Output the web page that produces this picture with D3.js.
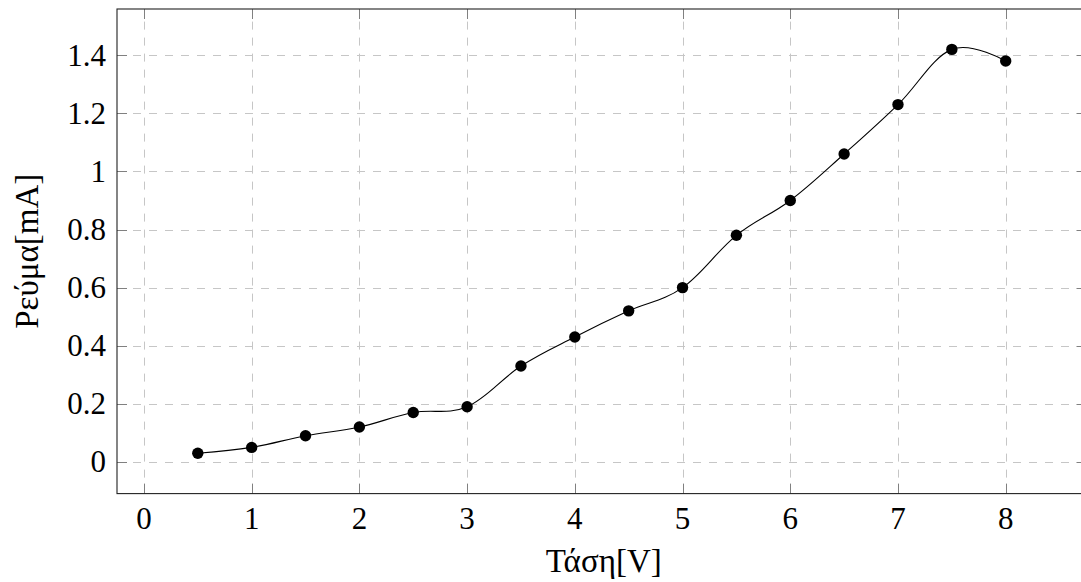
<!DOCTYPE html>
<html>
<head>
<meta charset="utf-8">
<script src="https://cdn.jsdelivr.net/npm/d3@7"></script>
<style>
  html, body { margin: 0; padding: 0; background: #fff; }
  svg { display: block; }
  text { font-family: "Liberation Serif", "DejaVu Serif", serif; fill: #000; }
</style>
</head>
<body>
<svg id="chart" width="1081" height="582"></svg>
<script>
// Measured voltage (V) and current (mA)
const voltage = [0.5, 1, 1.5, 2, 2.5, 3, 3.5, 4, 4.5, 5, 5.5, 6, 6.5, 7, 7.5, 8];
const current = [0.03, 0.05, 0.09, 0.12, 0.17, 0.19, 0.33, 0.43, 0.52, 0.60, 0.78, 0.90, 1.06, 1.23, 1.42, 1.38];

const xTicks = [0, 1, 2, 3, 4, 5, 6, 7, 8];
const yTicks = [0, 0.2, 0.4, 0.6, 0.8, 1, 1.2, 1.4];
const xTitle = "Τάση[V]";
const yTitle = "Ρεύμα[mA]";

const svg = d3.select("#chart");

// Axis limits: data extent widened by 10% of its span on each side
function enlarged(values) {
  const [lo, hi] = d3.extent(values);
  const pad = (hi - lo) * 0.1;
  return [lo - pad, hi + pad];
}
const xd = enlarged(voltage);
const yd = enlarged(current);

const plot = { left: 117, right: 1086.5, top: 9, bottom: 493.6 };

const x = d3.scaleLinear().domain(xd).range([plot.left, plot.right]);
const y = d3.scaleLinear().domain(yd).range([plot.bottom, plot.top]);

const TICK = 10;
const TICK_FONT = 31;
const TITLE_FONT = 33;

// Grid
const grid = svg.append("g")
  .attr("stroke", "#c6c6c6").attr("stroke-width", 1)
  .attr("stroke-dasharray", "8,8").attr("fill", "none");
grid.selectAll("line.v").data(xTicks).join("line").attr("class", "v")
  .attr("x1", d => Math.round(x(d)) + 0.5).attr("x2", d => Math.round(x(d)) + 0.5)
  .attr("y1", plot.bottom).attr("y2", plot.top);
grid.selectAll("line.h").data(yTicks).join("line").attr("class", "h")
  .attr("y1", d => Math.round(y(d)) + 0.5).attr("y2", d => Math.round(y(d)) + 0.5)
  .attr("x1", plot.left).attr("x2", plot.right);

// Tick marks on all four sides, pointing inward
const ticks = svg.append("g").attr("stroke", "#808080").attr("stroke-width", 1);
xTicks.forEach(t => {
  const px = Math.round(x(t)) + 0.5;
  ticks.append("line").attr("x1", px).attr("x2", px).attr("y1", plot.bottom).attr("y2", plot.bottom - TICK);
  ticks.append("line").attr("x1", px).attr("x2", px).attr("y1", plot.top).attr("y2", plot.top + TICK);
});
yTicks.forEach(t => {
  const py = Math.round(y(t)) + 0.5;
  ticks.append("line").attr("y1", py).attr("y2", py).attr("x1", plot.left).attr("x2", plot.left + TICK);
  ticks.append("line").attr("y1", py).attr("y2", py).attr("x1", plot.right).attr("x2", plot.right - TICK);
});

// Frame
svg.append("rect")
  .attr("x", plot.left).attr("y", plot.top)
  .attr("width", plot.right - plot.left).attr("height", plot.bottom - plot.top)
  .attr("fill", "none").attr("stroke", "#222").attr("stroke-width", 1.1);

// Tick labels
const fmt = d => String(+d.toFixed(2));
svg.append("g").selectAll("text").data(xTicks).join("text")
  .attr("x", d => x(d)).attr("y", 529)
  .attr("text-anchor", "middle").attr("font-size", TICK_FONT)
  .text(fmt);
svg.append("g").selectAll("text").data(yTicks).join("text")
  .attr("x", 106).attr("y", d => y(d)).attr("dy", "0.34em")
  .attr("text-anchor", "end").attr("font-size", TICK_FONT)
  .text(fmt);

// Axis titles
svg.append("text")
  .attr("x", (plot.left + plot.right) / 2 + 2).attr("y", 572)
  .attr("text-anchor", "middle").attr("font-size", TITLE_FONT)
  .text(xTitle);
svg.append("text")
  .attr("transform", `translate(38, ${(plot.top + plot.bottom) / 2}) rotate(-90)`)
  .attr("text-anchor", "middle").attr("font-size", TITLE_FONT)
  .text(yTitle);

// Smooth measurement curve and markers
const pts = voltage.map((v, i) => [v, current[i]]);
const line = d3.line().x(d => x(d[0])).y(d => y(d[1])).curve(d3.curveCardinal.tension(-0.1));
svg.append("path").datum(pts)
  .attr("d", line).attr("fill", "none").attr("stroke", "#000").attr("stroke-width", 1.1);
svg.append("g").selectAll("circle").data(pts).join("circle")
  .attr("cx", d => x(d[0])).attr("cy", d => y(d[1])).attr("r", 5.7)
  .attr("fill", "#000");
</script>
</body>
</html>
